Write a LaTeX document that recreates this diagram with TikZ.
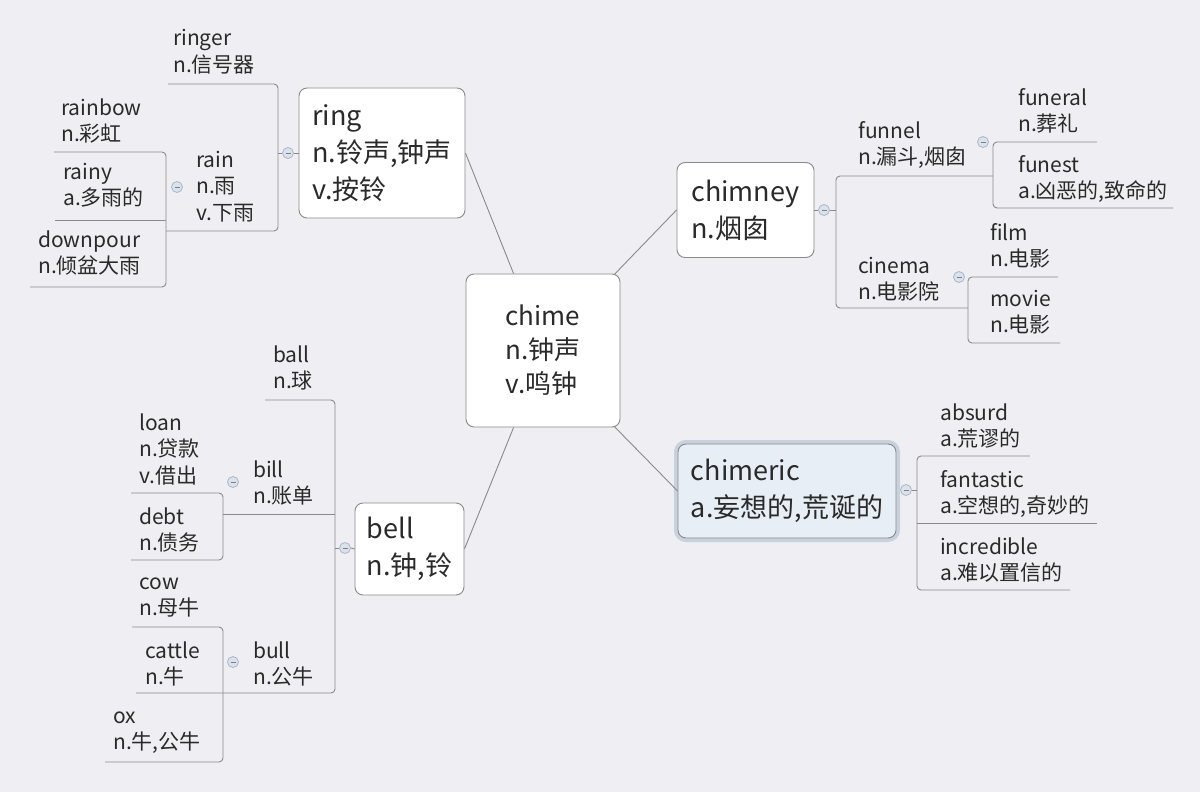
\documentclass[tikz,border=0pt]{standalone}
\usepackage{fontspec}
\setmainfont{Noto Sans CJK SC}
\usetikzlibrary{calc}
\definecolor{bg}{HTML}{EFEFF3}
\definecolor{ln}{HTML}{8A8A8A}
\definecolor{tx}{HTML}{2A2A2A}
\definecolor{mk}{HTML}{A8B6CA}
\definecolor{cb}{HTML}{E8EEF5}
\definecolor{cg}{HTML}{C8D2DE}
\tikzset{
  word/.style={anchor=base west, inner sep=0pt, text=tx, font=\fontsize{21}{25}\selectfont},
  bigbox/.style={draw=ln, fill=white!97!bg, rounded corners=8pt, line width=0.9pt, align=left,
     text=tx, font=\fontsize{27}{37}\selectfont, inner sep=0pt},
  conn/.style={draw=ln, line width=0.9pt},
  bracket/.style={draw=ln, line width=0.9pt, rounded corners=4pt},
  marker/.style={circle, minimum size=11pt, inner sep=0pt, draw=mk, fill=white!60!mk, line width=0.8pt,
     path picture={\draw[mk!70!black, line width=0.8pt] ($(path picture bounding box.center)+(-2.5,0)$) -- +(5,0);}},
}
\newcommand\wordlines[3]{%
  \foreach \t [count=\i] in {#3}{
    \node[word] (#1-\i) at ($(#2)+(0,{(\i-1)*26.5})$) {\t};
  }}
\begin{document}
\begin{tikzpicture}[x=1pt,y=-1pt]
\fill[bg] (0,0) rectangle (1200,792);
\useasboundingbox (0,0) rectangle (1200,792);

% main boxes
\node[bigbox, minimum width=154pt, minimum height=153pt, font=\fontsize{26}{34}\selectfont] (chime) at (543,350.5) {chime\\n.钟声\\v.鸣钟};
\node[bigbox, minimum width=166pt, minimum height=130pt] (ring) at (382,153) {ring\\n.铃声,钟声\\v.按铃};
\node[bigbox, minimum width=137pt, minimum height=95pt] (chimney) at (745.5,210) {chimney\\n.烟囱};
\node[bigbox, minimum width=218pt, minimum height=94pt, fill=cb, preaction={draw=cg, line width=8pt}] (chimeric) at (787,491) {chimeric\\a.妄想的,荒诞的};
\node[bigbox, minimum width=109pt, minimum height=92pt] (bell) at (409.5,549) {bell\\n.钟,铃};

% central connectors
\draw[conn] ($(chime.north west)!0.31!(chime.north east)$) -- (ring.east);
\draw[conn] ($(chime.north west)!0.96!(chime.north east)+(0,1)$) -- (chimney.west);
\draw[conn] ($(chime.south west)!0.96!(chime.south east)+(0,-1)$) -- (chimeric.west);
\draw[conn] ($(chime.south west)!0.31!(chime.south east)$) -- (bell.east);

% ---------- ring group ----------
\wordlines{ringer}{173,46}{ringer,n.信号器}
\wordlines{rain}{196,167}{rain,n.雨,v.下雨}
\wordlines{rainbow}{61,115}{rainbow,n.彩虹}
\wordlines{rainy}{63,179}{rainy,a.多雨的}
\wordlines{downpour}{38,247}{downpour,n.倾盆大雨}
\coordinate (ringV) at (278,153);
\draw[bracket] (168,84) -- (278,84) -- (278,231) -- (166,231);
\draw[bracket] (54,152) -- (166,152) -- (166,287) -- (30,287);
\draw[conn] (55,220) -- (166,220);
\node[marker] (m-ring) at (288,153) {};
\draw[conn] (ring.west) -- (m-ring.east);
\draw[conn] (m-ring.west) -- (ringV);
\node[marker] (m-rain) at (177,187) {};

% ---------- chimney group ----------
\wordlines{funnel}{858,138}{funnel,{n.漏斗,烟囱}}
\wordlines{funeral}{1018,105}{funeral,n.葬礼}
\wordlines{funest}{1018,172}{funest,{a.凶恶的,致命的}}
\wordlines{cinema}{858,273}{cinema,n.电影院}
\wordlines{film}{990,240}{film,n.电影}
\wordlines{movie}{990,306}{movie,n.电影}
\coordinate (chimneyV) at (836,210);
\draw[bracket] (993,176) -- (836,176) -- (836,308) -- (968,308);
\draw[bracket] (1097,142) -- (993,142) -- (993,208) -- (1173,208);
\draw[bracket] (1058,277) -- (968,277) -- (968,343) -- (1060,343);
\node[marker] (m-chimney) at (824,210) {};
\draw[conn] (chimney.east) -- (m-chimney.west);
\draw[conn] (m-chimney.east) -- (chimneyV);
\node[marker] (m-funnel) at (983,142) {};
\node[marker] (m-cinema) at (959,277) {};

% ---------- chimeric group ----------
\wordlines{absurd}{940,420}{absurd,a.荒谬的}
\wordlines{fantastic}{940,487}{fantastic,{a.空想的,奇妙的}}
\wordlines{incredible}{940,554}{incredible,a.难以置信的}
\coordinate (chimericV) at (917,490);
\draw[bracket] (1030,456) -- (917,456) -- (917,590) -- (1070,590);
\draw[conn] (917,523) -- (1097,523);
\node[marker] (m-chimeric) at (906,490) {};
\draw[conn] (m-chimeric.east) -- (chimericV);

% ---------- bell group ----------
\wordlines{ball}{273,362}{ball,n.球}
\wordlines{loan}{139,430}{loan,n.贷款,v.借出}
\wordlines{bill}{253,477}{bill,n.账单}
\wordlines{debt}{139,524}{debt,n.债务}
\wordlines{cow}{139,589}{cow,n.母牛}
\wordlines{cattle}{145,658}{cattle,n.牛}
\wordlines{bull}{253,658}{bull,n.公牛}
\wordlines{ox}{113,723}{ox,{n.牛,公牛}}
\coordinate (bellV) at (335,548);
\draw[bracket] (265,400) -- (335,400) -- (335,693) -- (136,693);
\draw[conn] (335,514) -- (223,514);
\draw[bracket] (131,493) -- (223,493) -- (223,560) -- (131,560);
\draw[bracket] (132,627) -- (223,627) -- (223,762) -- (105,762);
\node[marker] (m-bell) at (345,548) {};
\draw[conn] (bell.west) -- (m-bell.east);
\draw[conn] (m-bell.west) -- (bellV);
\node[marker] (m-bill) at (233,482) {};
\node[marker] (m-bull) at (233,662) {};
\end{tikzpicture}
\end{document}
